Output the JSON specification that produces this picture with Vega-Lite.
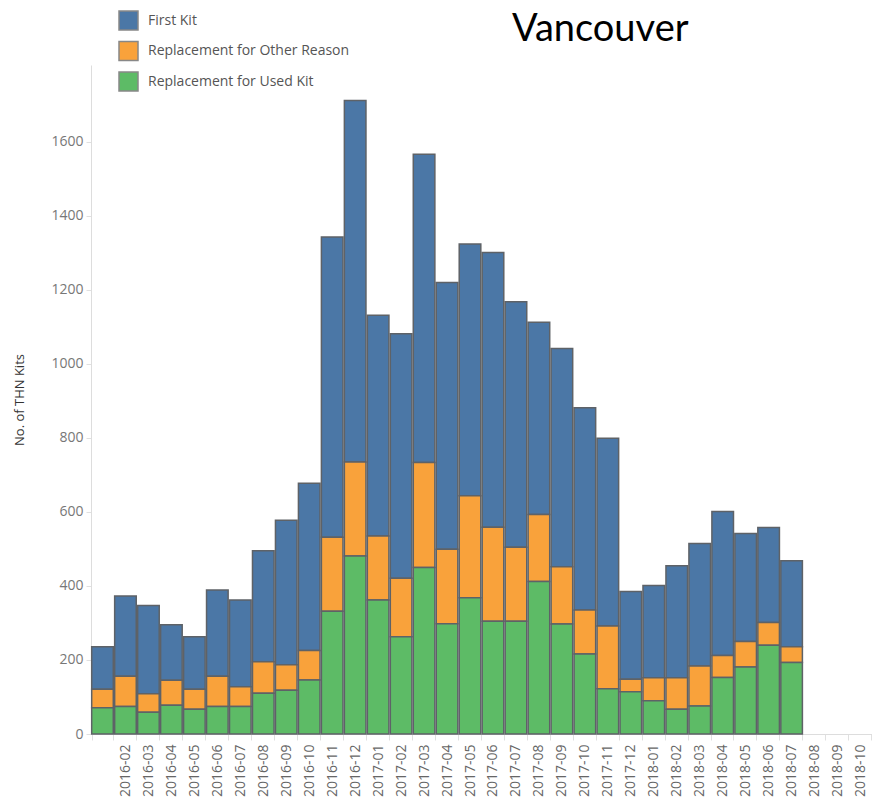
{
  "$schema": "https://vega.github.io/schema/vega-lite/v6.json",
  "autosize": {"type": "none"},
  "padding": {"left": 91, "top": 65, "right": 0, "bottom": 74},
  "width": 781,
  "height": 669,
  "background": "white",
  "title": {
    "text": "Vancouver",
    "anchor": "start",
    "frame": "group",
    "dx": 421,
    "offset": -69,
    "baseline": "alphabetic",
    "font": "Lato",
    "fontSize": 38,
    "fontWeight": "normal",
    "color": "#000000"
  },
  "data": {
    "values": [
      {"month": "2016-01", "First Kit": 115, "Replacement for Other Reason": 50, "Replacement for Used Kit": 71},
      {"month": "2016-02", "First Kit": 217, "Replacement for Other Reason": 82, "Replacement for Used Kit": 74},
      {"month": "2016-03", "First Kit": 238, "Replacement for Other Reason": 50, "Replacement for Used Kit": 59},
      {"month": "2016-04", "First Kit": 150, "Replacement for Other Reason": 67, "Replacement for Used Kit": 78},
      {"month": "2016-05", "First Kit": 142, "Replacement for Other Reason": 54, "Replacement for Used Kit": 67},
      {"month": "2016-06", "First Kit": 233, "Replacement for Other Reason": 82, "Replacement for Used Kit": 74},
      {"month": "2016-07", "First Kit": 234, "Replacement for Other Reason": 54, "Replacement for Used Kit": 74},
      {"month": "2016-08", "First Kit": 300, "Replacement for Other Reason": 85, "Replacement for Used Kit": 110},
      {"month": "2016-09", "First Kit": 391, "Replacement for Other Reason": 69, "Replacement for Used Kit": 118},
      {"month": "2016-10", "First Kit": 452, "Replacement for Other Reason": 80, "Replacement for Used Kit": 146},
      {"month": "2016-11", "First Kit": 811, "Replacement for Other Reason": 200, "Replacement for Used Kit": 332},
      {"month": "2016-12", "First Kit": 977, "Replacement for Other Reason": 254, "Replacement for Used Kit": 481},
      {"month": "2017-01", "First Kit": 597, "Replacement for Other Reason": 173, "Replacement for Used Kit": 362},
      {"month": "2017-02", "First Kit": 661, "Replacement for Other Reason": 158, "Replacement for Used Kit": 263},
      {"month": "2017-03", "First Kit": 833, "Replacement for Other Reason": 284, "Replacement for Used Kit": 450},
      {"month": "2017-04", "First Kit": 721, "Replacement for Other Reason": 201, "Replacement for Used Kit": 298},
      {"month": "2017-05", "First Kit": 680, "Replacement for Other Reason": 276, "Replacement for Used Kit": 368},
      {"month": "2017-06", "First Kit": 742, "Replacement for Other Reason": 254, "Replacement for Used Kit": 305},
      {"month": "2017-07", "First Kit": 663, "Replacement for Other Reason": 200, "Replacement for Used Kit": 305},
      {"month": "2017-08", "First Kit": 520, "Replacement for Other Reason": 181, "Replacement for Used Kit": 412},
      {"month": "2017-09", "First Kit": 590, "Replacement for Other Reason": 155, "Replacement for Used Kit": 297},
      {"month": "2017-10", "First Kit": 547, "Replacement for Other Reason": 119, "Replacement for Used Kit": 216},
      {"month": "2017-11", "First Kit": 507, "Replacement for Other Reason": 170, "Replacement for Used Kit": 122},
      {"month": "2017-12", "First Kit": 237, "Replacement for Other Reason": 34, "Replacement for Used Kit": 114},
      {"month": "2018-01", "First Kit": 249, "Replacement for Other Reason": 62, "Replacement for Used Kit": 90},
      {"month": "2018-02", "First Kit": 303, "Replacement for Other Reason": 85, "Replacement for Used Kit": 67},
      {"month": "2018-03", "First Kit": 331, "Replacement for Other Reason": 108, "Replacement for Used Kit": 76},
      {"month": "2018-04", "First Kit": 389, "Replacement for Other Reason": 59, "Replacement for Used Kit": 153},
      {"month": "2018-05", "First Kit": 292, "Replacement for Other Reason": 69, "Replacement for Used Kit": 181},
      {"month": "2018-06", "First Kit": 257, "Replacement for Other Reason": 61, "Replacement for Used Kit": 240},
      {"month": "2018-07", "First Kit": 232, "Replacement for Other Reason": 43, "Replacement for Used Kit": 193}
    ]
  },
  "transform": [
    {"fold": ["First Kit", "Replacement for Other Reason", "Replacement for Used Kit"], "as": ["type", "kits"]}
  ],
  "mark": {"type": "bar", "stroke": "#5e6267", "strokeWidth": 1.5},
  "encoding": {
    "x": {
      "field": "month",
      "type": "ordinal",
      "scale": {
        "domain": ["2016-01","2016-02","2016-03","2016-04","2016-05","2016-06","2016-07","2016-08","2016-09","2016-10","2016-11","2016-12","2017-01","2017-02","2017-03","2017-04","2017-05","2017-06","2017-07","2017-08","2017-09","2017-10","2017-11","2017-12","2018-01","2018-02","2018-03","2018-04","2018-05","2018-06","2018-07","2018-08","2018-09","2018-10"],
        "paddingInner": 0.06,
        "paddingOuter": 0.03
      },
      "axis": {
        "title": null,
        "labelAngle": 270,
        "labelFont": "Open Sans",
        "labelFontSize": 14,
        "labelColor": "#666666",
        "labelPadding": 4,
        "labelExpr": "datum.value == '2016-01' ? '' : datum.label",
        "tickBand": "extent",
        "tickColor": "#e0e0e0",
        "tickSize": 6,
        "domainColor": "#dddddd",
        "grid": false
      }
    },
    "y": {
      "field": "kits",
      "type": "quantitative",
      "stack": "zero",
      "scale": {"domain": [0, 1808], "nice": false},
      "axis": {
        "title": "No. of THN Kits",
        "titleFont": "Open Sans",
        "titleFontSize": 13,
        "titleFontWeight": "normal",
        "titleColor": "#333333",
        "titlePadding": 24,
        "values": [0, 200, 400, 600, 800, 1000, 1200, 1400, 1600],
        "format": "d",
        "labelFont": "Open Sans",
        "labelFontSize": 14,
        "labelColor": "#777777",
        "labelPadding": 3,
        "tickColor": "#e0e0e0",
        "tickSize": 5,
        "domainColor": "#dddddd",
        "grid": false
      }
    },
    "color": {
      "field": "type",
      "type": "nominal",
      "scale": {
        "domain": ["First Kit", "Replacement for Other Reason", "Replacement for Used Kit"],
        "range": ["#4b77a6", "#f9a23b", "#5dbb66"]
      },
      "legend": {
        "title": null,
        "orient": "none",
        "legendX": 27,
        "legendY": -55,
        "symbolType": "square",
        "symbolSize": 361,
        "symbolStrokeColor": "#888888",
        "symbolStrokeWidth": 1.5,
        "symbolOpacity": 1,
        "labelFont": "Open Sans",
        "labelFontSize": 14,
        "labelColor": "#555555",
        "labelOffset": 9,
        "labelLimit": 0,
        "rowPadding": 5.5
      }
    },
    "order": {"field": "type", "sort": "descending"}
  },
  "config": {"view": {"stroke": null}}
}
